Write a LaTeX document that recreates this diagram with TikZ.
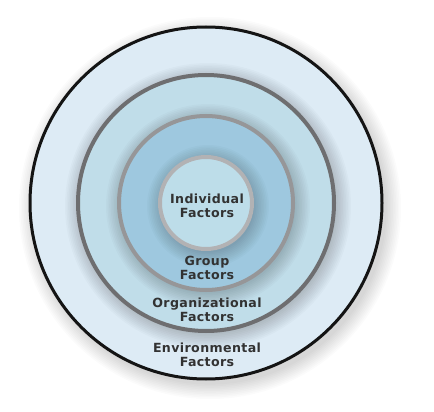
\documentclass[tikz,border=0pt]{standalone}
\usepackage{fontspec}
\setmainfont{DejaVu Sans}[LetterSpace=3]
\usepackage{tikz}
\usetikzlibrary{positioning}
\definecolor{envfill}{RGB}{221,235,245}
\definecolor{orgfill}{RGB}{192,221,233}
\definecolor{grpfill}{RGB}{158,200,223}
\definecolor{indfill}{RGB}{189,221,233}
\definecolor{envline}{RGB}{20,20,20}
\definecolor{orgline}{RGB}{110,110,112}
\definecolor{grpline}{RGB}{150,150,152}
\definecolor{indline}{RGB}{178,178,180}
\definecolor{labeltext}{RGB}{50,50,50}

\tikzset{
  ring/.style={circle,inner sep=0pt,outer sep=0pt},
  lbl/.style={font=\bfseries\fontsize{12.6}{13.8}\selectfont,text=labeltext,
    align=center,inner sep=0pt}
}

\begin{document}
\begin{tikzpicture}[x=1pt,y=-1pt]
  \useasboundingbox[fill=white] (0,0) rectangle (434,412);
  % ---- soft shadows below each ring ----
  \foreach \i in {1,...,10}{
    \fill[black,opacity=0.014] (210,208) circle ({175+1.6*\i});}
  \node[ring,fill=envfill,minimum size=352] (env) at (206,203) {};
  \foreach \i in {1,...,10}{
    \fill[black,opacity=0.02] (208,206) circle ({127+1.6*\i});}
  \node[ring,fill=orgfill,minimum size=256] (org) at (206,203) {};
  \foreach \i in {1,...,10}{
    \fill[black,opacity=0.02] (208,206) circle ({86+1.6*\i});}
  \node[ring,fill=grpfill,minimum size=174] (grp) at (206,203) {};
  \foreach \i in {1,...,10}{
    \fill[black,opacity=0.02] (208,206) circle ({45+1.6*\i});}
  \node[ring,fill=indfill,minimum size=92] (ind) at (206,203) {};
  % ---- ring outlines ----
  \draw[envline,line width=3pt] (env.center) circle (176);
  \draw[orgline,line width=4pt] (org.center) circle (128);
  \draw[grpline,line width=4pt] (grp.center) circle (87);
  \draw[indline,line width=4pt] (ind.center) circle (46);
  % ---- labels ----
  \node[lbl] (indtxt) at (207,206) {Individual\\Factors};
  \node[lbl] (grptxt) at (207,268) {Group\\Factors};
  \node[lbl] (orgtxt) at (207,310) {Organizational\\Factors};
  \node[lbl] (envtxt) at (207,355) {Environmental\\Factors};
\end{tikzpicture}
\end{document}
